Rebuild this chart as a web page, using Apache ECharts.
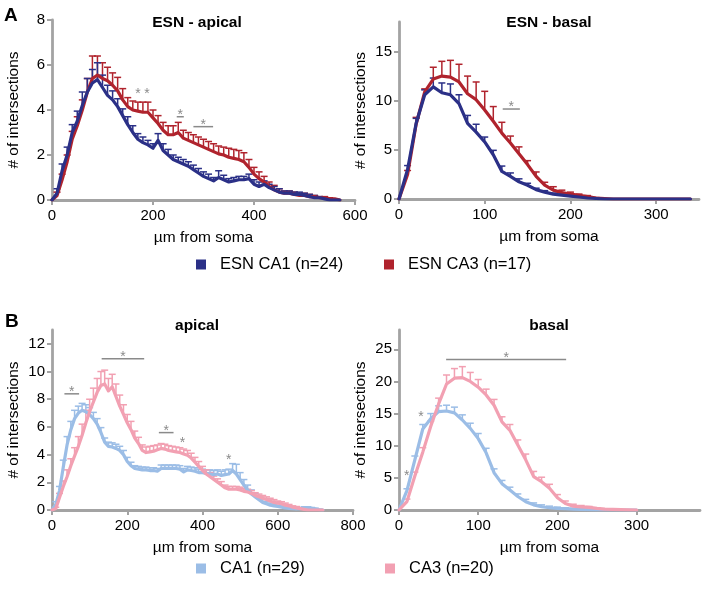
<!DOCTYPE html>
<html><head><meta charset="utf-8">
<script src="https://cdn.jsdelivr.net/npm/echarts@6/dist/echarts.min.js"></script>
<style>html,body{margin:0;padding:0;background:#fff}#c{width:706px;height:592px}</style>
</head><body><div id="c"></div>
<script>
// ---------- Panel A left: ESN - apical ----------
const xA1 = [0,10,20,30,40,50,60,70,80,90,100,110,120,130,140,150,160,170,180,190,200,210,220,230,240,250,260,270,280,290,300,310,320,330,340,350,360,370,380,390,400,410,420,430,440,450,460,470,480,490,500,510,520,530,540,550,560,570];
const esnCA1Apical = [0,0.3,1.3,2.0,3.0,3.5,4.2,4.8,5.2,5.35, 5.0,4.65,4.45,4.15,3.75,3.35,3.0,2.7,2.55,2.45, 2.3,2.65,2.2,2.0,1.8,1.7,1.6,1.5,1.35,1.2, 1.05,0.95,0.85,1.0,0.9,0.8,0.85,0.9,0.9,0.95, 0.7,0.6,0.7,0.55,0.45,0.35,0.3,0.3,0.25,0.25, 0.2,0.15,0.1,0.1,0.05,0,0,0];
const esnCA1ApicalSem = [0,0.2,0.3,0.35,0.35,0.45,0.6,0.6,0.6,0.75, 0.55,0.45,0.4,0.35,0.3,0.35,0.3,0.25,0.25,0.2, 0.2,0.3,0.3,0.25,0.2,0.2,0.2,0.2,0.2,0.2, 0.2,0.2,0.15,0.3,0.2,0.15,0.15,0.15,0.15,0.2, 0.2,0.2,0.15,0.15,0.15,0.15,0.1,0.1,0.1,0.1, 0.1,0.1,0.1,0.05,0.05,0,0,0];
const esnCA3Apical = [0,0.2,0.9,1.7,2.7,3.3,4.0,4.8,5.4,5.55, 5.4,5.3,5.1,4.85,4.45,4.15,4.0,3.95,3.9,3.9, 3.65,3.4,3.1,2.9,2.9,3.0,2.75,2.65,2.55,2.45, 2.35,2.25,2.15,2.05,2.0,1.9,1.85,1.8,1.7,1.45, 1.15,0.95,0.8,0.6,0.45,0.35,0.3,0.3,0.25,0.2, 0.2,0.15,0.15,0.1,0.1,0.05,0.05,0];
const esnCA3ApicalSem = [0,0.15,0.25,0.3,0.35,0.4,0.45,0.6,1.0,0.85, 0.7,0.6,0.55,0.6,0.5,0.4,0.4,0.4,0.45,0.45, 0.35,0.35,0.35,0.4,0.4,0.45,0.35,0.35,0.35,0.35, 0.35,0.35,0.35,0.35,0.35,0.4,0.4,0.4,0.4,0.35, 0.3,0.3,0.25,0.2,0.2,0.15,0.1,0.1,0.1,0.1, 0.1,0.1,0.05,0.05,0.05,0.05,0,0];
const sigA1 = [[170,170,4.86],[188,188,4.86],[247,261,3.7],[280,319,3.26]];

// ---------- Panel A right: ESN - basal ----------
const xA2 = [0,10,20,30,40,50,60,70,80,90,100,110,120,130,140,150,160,170,180,190,200,210,220,230,240,250,260,270,280,290,300,310,320,330,340];
const esnCA1Basal = [0,3.0,7.7,10.6,11.4,10.8,10.6,9.7,7.7,6.8, 5.8,4.5,2.8,2.3,1.75,1.4,0.95,0.7,0.5,0.4, 0.3,0.2,0.1,0.05,0,0,0,0,0,0, 0,0,0,0,0];
const esnCA1BasalSem = [0,0.4,0.5,0.5,0.9,1.0,1.1,0.9,0.8,0.8, 0.5,0.45,0.55,0.35,0.3,0.2,0.15,0.15,0.1,0.1, 0.1,0.05,0.05,0,0,0,0,0,0,0, 0,0,0,0,0];
const esnCA3Basal = [0,2.5,7.6,10.9,12.2,12.5,12.4,11.9,10.7,10.1, 9.05,7.9,6.7,5.7,4.6,3.5,2.3,1.4,0.9,0.65, 0.5,0.37,0.25,0.1,0.05,0,0,0,0,0, 0,0,0,0,0];
const esnCA3BasalSem = [0,0.4,0.7,0.3,1.2,1.5,1.7,1.8,1.8,1.8, 1.9,1.5,1.1,0.7,0.7,0.4,0.45,0.3,0.35,0.25, 0.2,0.13,0.1,0.05,0,0,0,0,0,0, 0,0,0,0,0];
const sigA2 = [[121,141,9.15]];

// ---------- Panel B left: apical ----------
const xB1 = [0,10,20,30,40,50,60,70,80,90,100,110,120,130,140,150,160,170,180,190,200,210,220,230,240,250,260,270,280,290,300,310,320,330,340,350,360,370,380,390,400,410,420,430,440,450,460,470,480,490,500,510,520,530,540,550,560,570,580,590,600,610,620,630,640,650,660,670,680,690,700,710,720];
const ca1Apical = [0,0.4,1.4,3.1,4.7,5.8,6.6,7.0,7.2,7.1, 6.9,6.6,6.2,5.6,4.9,4.6,4.55,4.45,4.3,4.0, 3.5,3.2,3.0,2.95,2.9,2.9,2.85,2.85,2.8,3.0, 3.0,3.0,3.0,3.0,2.95,2.75,2.9,2.85,2.8,2.7, 2.7,2.65,2.6,2.55,2.6,2.5,2.55,2.6,2.85,2.6, 2.2,1.8,1.45,1.15,0.95,0.75,0.55,0.45,0.35,0.3, 0.25,0.2,0.15,0.12,0.1,0.08,0.1,0.15,0.15,0.12, 0.08,0.03,0];
const ca1ApicalSem = [0,0.2,0.3,0.5,0.6,0.6,0.6,0.5,0.5,0.5, 0.5,0.45,0.4,0.35,0.3,0.3,0.3,0.3,0.3,0.3, 0.3,0.25,0.2,0.2,0.2,0.2,0.2,0.2,0.2,0.25, 0.25,0.25,0.25,0.25,0.25,0.25,0.25,0.25,0.25,0.25, 0.25,0.25,0.3,0.3,0.3,0.3,0.35,0.35,0.5,0.7, 0.5,0.4,0.35,0.3,0.25,0.2,0.2,0.15,0.15,0.12, 0.1,0.1,0.08,0.08,0.06,0.05,0.06,0.08,0.08,0.06, 0.04,0.02,0];
const ca3Apical = [0,0.1,0.9,1.7,2.4,3.2,3.9,4.6,5.4,6.3, 7.1,7.8,8.5,9.0,9.1,8.6,8.9,8.2,7.5,6.9, 6.3,5.8,5.2,4.8,4.3,4.15,4.2,4.25,4.35,4.45, 4.4,4.3,4.25,4.2,4.15,4.05,3.95,3.75,3.45,3.15, 2.85,2.6,2.4,2.2,2.0,1.8,1.6,1.5,1.5,1.5, 1.45,1.35,1.3,1.2,1.05,0.95,0.85,0.75,0.65,0.55, 0.5,0.45,0.35,0.3,0.2,0.15,0.1,0.05,0,0, 0,0,0];
const ca3ApicalSem = [0,0.1,0.3,0.4,0.5,0.5,0.6,0.7,0.8,0.9, 0.9,1.0,1.0,1.0,1.0,0.9,0.9,0.9,0.8,0.7, 0.6,0.6,0.5,0.45,0.4,0.4,0.4,0.4,0.35,0.35, 0.35,0.35,0.35,0.35,0.35,0.35,0.35,0.35,0.35,0.35, 0.3,0.3,0.3,0.25,0.25,0.25,0.2,0.2,0.2,0.2, 0.2,0.2,0.2,0.2,0.2,0.2,0.2,0.2,0.2,0.2, 0.15,0.15,0.15,0.1,0.1,0.1,0.05,0.05,0,0, 0,0,0];
const sigB1 = [[33,72,8.39],[132,245,10.92],[284,323,5.59],[347,347,5.06],[470,470,3.86]];

// ---------- Panel B right: basal ----------
const xB2 = [0,10,20,30,40,50,60,70,80,90,100,110,120,130,140,150,160,170,180,190,200,210,220,230,240,250,260,270,280,290,300];
const ca1Basal = [0,3.0,7.8,12.6,14.2,15.3,15.4,15.1,14.0,12.7, 11.1,8.9,5.8,4.1,3.1,2.1,1.3,0.8,0.5,0.35, 0.25,0.2,0.15,0.1,0.05,0.02,0,0,0,0, 0];
const ca1BasalSem = [0,0.3,0.6,0.7,0.8,0.9,0.9,0.9,0.8,0.8, 0.8,0.7,0.6,0.5,0.45,0.4,0.35,0.3,0.3,0.25, 0.2,0.15,0.1,0.1,0.05,0.05,0,0,0,0, 0];
const ca3Basal = [0,1.3,5.3,9.0,13.0,16.5,19.6,20.5,20.6,20.0, 19.1,17.9,16.3,13.7,12.4,10.1,7.8,5.2,4.4,3.4, 1.9,1.0,0.6,0.5,0.4,0.25,0.15,0.1,0.05,0.02, 0];
const ca3BasalSem = [0,0.4,0.6,0.7,0.8,0.9,1.4,1.5,1.7,1.4, 1.2,0.9,0.9,0.8,0.9,0.8,0.9,0.8,0.7,0.6, 0.5,0.4,0.3,0.2,0.15,0.1,0.05,0.05,0,0, 0];
const sigB2 = [[59.5,211,23.4],[27.8,27.8,15.0],[9.7,9.7,5.85]];

// ---------- tick labels ----------
const ticksXA1 = [0,200,400,600], ticksXA2 = [0,100,200,300], ticksXB1 = [0,200,400,600,800], ticksXB2 = [0,100,200,300];
const ticksYA1 = [0,2,4,6,8], ticksYA2 = [0,5,10,15], ticksYB1 = [0,2,4,6,8,10,12], ticksYB2 = [0,5,10,15,20,25];

const names = {a1:'ESN CA1 (n=24)', a3:'ESN CA3 (n=17)', b1:'CA1 (n=29)', b3:'CA3 (n=20)'};
const C = {darkBlue:'#2b3087', darkRed:'#b0232d', lightBlue:'#9bbde6', pink:'#f2a0b2', grey:'#a3a3a3', sig:'#8a8a8a'};
const FONT = '"Liberation Sans", Arial, Helvetica, sans-serif';

function pairs(xs, ys){ return xs.map((x,i)=>[x, ys[i]]); }
function lineSeries(name, g, xs, ys, color){
  return {type:'line', name, xAxisIndex:g, yAxisIndex:g, data:pairs(xs,ys), showSymbol:false, symbol:'none',
    color, lineStyle:{color, width:3.2, join:'round', cap:'round'}, silent:true, animation:false};
}
function errSeries(g, xs, ys, es, color){
  return {type:'custom', xAxisIndex:g, yAxisIndex:g, data:xs.map((x,i)=>[x, ys[i], es[i]]), encode:{x:0,y:1},
    silent:true, animation:false, clip:false,
    renderItem:function(params, api){
      const x=api.value(0), m=api.value(1), e=api.value(2);
      if (!(e>0)) return null;
      const p0=api.coord([x,m]), p1=api.coord([x,m+e]);
      return {type:'group', children:[
        {type:'line', shape:{x1:p0[0],y1:p0[1],x2:p1[0],y2:p1[1]}, style:{stroke:color, lineWidth:1.5}},
        {type:'line', shape:{x1:p1[0]-3.5,y1:p1[1],x2:p1[0]+3.5,y2:p1[1]}, style:{stroke:color, lineWidth:1.5}}
      ]};
    }};
}
function sigSeries(g, items){
  return {type:'custom', xAxisIndex:g, yAxisIndex:g, data:items, encode:{x:[0,1], y:2}, silent:true, animation:false, clip:false, z:5,
    renderItem:function(params, api){
      const x1=api.value(0), x2=api.value(1), y=api.value(2);
      const a=api.coord([x1,y]), b=api.coord([x2,y]);
      const kids=[];
      if (x2>x1){
        kids.push({type:'line', shape:{x1:a[0],y1:a[1],x2:b[0],y2:b[1]}, style:{stroke:C.sig, lineWidth:1.5}});
        kids.push({type:'text', style:{text:'*', x:(a[0]+b[0])/2, y:a[1]-1.5, align:'center', verticalAlign:'middle', fill:C.sig, font:'14px '+FONT}});
      } else {
        kids.push({type:'text', style:{text:'*', x:a[0], y:a[1]+3.5, align:'center', verticalAlign:'middle', fill:C.sig, font:'14px '+FONT}});
      }
      return {type:'group', children:kids};
    }};
}
const axLine = {show:true, onZero:false, lineStyle:{color:C.grey, width:2.8}};
const axTick = (vals)=>({show:true, length:5, inside:false, customValues:vals, lineStyle:{color:C.grey, width:2}});
const axLabel = (vals, margin)=>({show:true, customValues:vals, margin, color:'#000', fontSize:15, fontFamily:FONT});
function xAx(g, max, interval, vals){
  return {type:'value', gridIndex:g, min:0, max, interval, splitLine:{show:false}, axisLine:axLine, axisTick:axTick(vals), axisLabel:axLabel(vals,8),
    name:'µm from soma', nameLocation:'middle', nameGap:30, nameTextStyle:{color:'#000', fontSize:15.5, fontFamily:FONT}};
}
function yAx(g, max, interval, vals){
  return {type:'value', gridIndex:g, min:0, max, interval, splitLine:{show:false}, axisLine:axLine, axisTick:axTick(vals), axisLabel:axLabel(vals,7),
    name:'# of intersections', nameLocation:'middle', nameGap:30, nameRotate:90, nameTextStyle:{color:'#000', fontSize:15.5, fontFamily:FONT}};
}
function legendItem(name, left, top){
  return {data:[name], left, top, icon:'rect', itemWidth:10, itemHeight:10, padding:0, selectedMode:false,
    textStyle:{color:'#000', fontSize:16.5, fontFamily:FONT, padding:[0,0,0,9]}};
}
const titleStyle = {color:'#000', fontSize:15.5, fontWeight:'bold', fontFamily:FONT};

const option = {
  backgroundColor:'#fff',
  animation:false,
  title:[
    {text:'A', left:4, top:6, textStyle:{color:'#000', fontSize:19, fontWeight:'bold', fontFamily:FONT}, padding:0},
    {text:'B', left:5, top:312, textStyle:{color:'#000', fontSize:19, fontWeight:'bold', fontFamily:FONT}, padding:0},
    {text:'ESN - apical', left:197, top:15, textAlign:'center', textStyle:titleStyle, padding:0},
    {text:'ESN - basal', left:549, top:15, textAlign:'center', textStyle:titleStyle, padding:0},
    {text:'apical', left:197, top:318, textAlign:'center', textStyle:titleStyle, padding:0},
    {text:'basal', left:549, top:318, textAlign:'center', textStyle:titleStyle, padding:0}
  ],
  legend:[
    legendItem(names.a1, 196, 256), legendItem(names.a3, 384, 256),
    legendItem(names.b1, 196, 560), legendItem(names.b3, 385, 560)
  ],
  grid:[
    {left:52, top:20, width:303, height:180},
    {left:399, top:22, width:300, height:177},
    {left:52, top:330, width:301, height:180},
    {left:399, top:330, width:301, height:180}
  ],
  xAxis:[ xAx(0,600,200,ticksXA1), xAx(1,350,100,ticksXA2), xAx(2,800,200,ticksXB1), xAx(3,380,100,ticksXB2) ],
  yAxis:[ yAx(0,8,2,ticksYA1), yAx(1,18,5,ticksYA2), yAx(2,13,2,ticksYB1), yAx(3,28,5,ticksYB2) ],
  series:[
    errSeries(0, xA1, esnCA3Apical, esnCA3ApicalSem, C.darkRed),
    lineSeries(names.a3, 0, xA1, esnCA3Apical, C.darkRed),
    errSeries(0, xA1, esnCA1Apical, esnCA1ApicalSem, C.darkBlue),
    lineSeries(names.a1, 0, xA1, esnCA1Apical, C.darkBlue),
    sigSeries(0, sigA1),

    errSeries(1, xA2, esnCA3Basal, esnCA3BasalSem, C.darkRed),
    lineSeries(names.a3, 1, xA2, esnCA3Basal, C.darkRed),
    errSeries(1, xA2, esnCA1Basal, esnCA1BasalSem, C.darkBlue),
    lineSeries(names.a1, 1, xA2, esnCA1Basal, C.darkBlue),
    sigSeries(1, sigA2),

    errSeries(2, xB1, ca1Apical, ca1ApicalSem, C.lightBlue),
    lineSeries(names.b1, 2, xB1, ca1Apical, C.lightBlue),
    errSeries(2, xB1, ca3Apical, ca3ApicalSem, C.pink),
    lineSeries(names.b3, 2, xB1, ca3Apical, C.pink),
    sigSeries(2, sigB1),

    errSeries(3, xB2, ca1Basal, ca1BasalSem, C.lightBlue),
    lineSeries(names.b1, 3, xB2, ca1Basal, C.lightBlue),
    errSeries(3, xB2, ca3Basal, ca3BasalSem, C.pink),
    lineSeries(names.b3, 3, xB2, ca3Basal, C.pink),
    sigSeries(3, sigB2)
  ]
};
const chart = echarts.init(document.getElementById('c'), null, {renderer:'canvas'});
chart.setOption(option);
</script>
</body></html>
